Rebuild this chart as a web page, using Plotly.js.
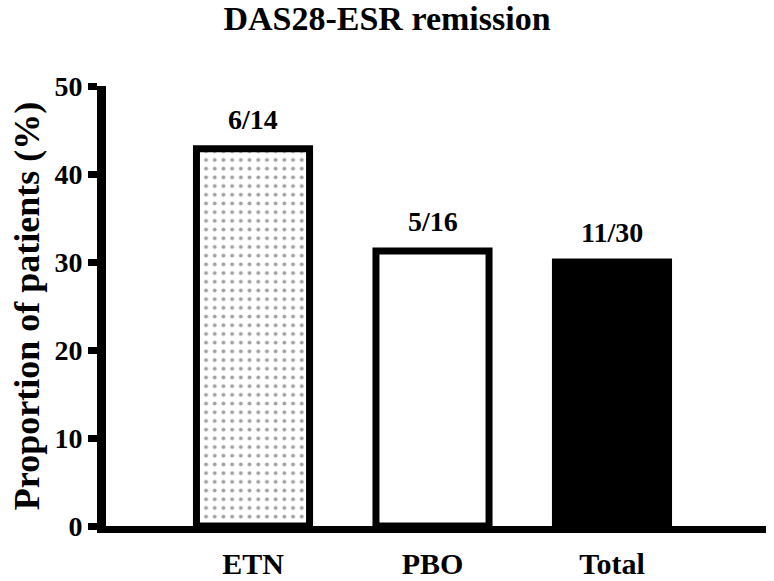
<!DOCTYPE html>
<html>
<head>
<meta charset="utf-8">
<script src="https://cdn.plot.ly/plotly-3.0.1.min.js"></script>
<style>html,body{margin:0;padding:0;background:#fff;}#chart{width:774px;height:581px;}</style>
</head>
<body>
<div id="chart"></div>
<script>
const categories = ["ETN", "PBO", "Total"];
const proportions = [42.86, 31.25, 30.0];
const ratioLabels = ["6/14", "5/16", "11/30"];
const yTicks = [0, 10, 20, 30, 40, 50];

const FONT = "'Liberation Serif', 'Times New Roman', serif";

const trace = {
  type: "bar",
  x: categories,
  y: proportions,
  width: 0.63,
  marker: {
    color: ["white", "white", "black"],
    line: { color: "black", width: 7 },
    pattern: {
      shape: [".", "", ""],
      fgcolor: "black",
      bgcolor: "white",
      size: 8.7,
      solidity: 0.16,
      fillmode: "overlay"
    }
  },
  hoverinfo: "skip"
};

const annotations = categories.map((c, i) => ({
  x: c,
  y: proportions[i],
  xref: "x",
  yref: "y",
  text: "<b>" + ratioLabels[i] + "</b>",
  showarrow: false,
  yanchor: "bottom",
  yshift: 12,
  font: { family: FONT, size: 28, color: "black" }
}));

const layout = {
  width: 774,
  height: 581,
  margin: { l: 106, r: 8, t: 86, b: 55 },
  paper_bgcolor: "white",
  plot_bgcolor: "white",
  showlegend: false,
  title: {
    text: "<b>DAS28-ESR remission</b>",
    font: { family: FONT, size: 34, color: "black" },
    x: 0.5,
    xref: "container",
    xanchor: "center",
    y: 0.99,
    yref: "container",
    yanchor: "top"
  },
  xaxis: {
    range: [-0.819, 2.858],
    showline: true,
    linecolor: "black",
    linewidth: 7,
    ticks: "",
    showgrid: false,
    zeroline: false,
    tickfont: { family: FONT, size: 30, color: "black" },
    tickprefix: "<b>",
    ticksuffix: "</b>",
    ticklabelstandoff: 5
  },
  yaxis: {
    range: [0, 50],
    tickvals: yTicks,
    ticktext: yTicks.map(v => "<b>" + v + "</b>"),
    showline: true,
    linecolor: "black",
    linewidth: 9,
    ticks: "outside",
    ticklen: 9,
    tickwidth: 7,
    tickcolor: "black",
    showgrid: false,
    zeroline: false,
    tickfont: { family: FONT, size: 28, color: "black" },
    title: {
      text: "<b>Proportion of patients (%)</b>",
      font: { family: FONT, size: 36, color: "black" },
      standoff: 7
    }
  },
  annotations: annotations,
  bargap: 0.37
};

Plotly.newPlot("chart", [trace], layout, { displayModeBar: false, staticPlot: true });
</script>
</body>
</html>
